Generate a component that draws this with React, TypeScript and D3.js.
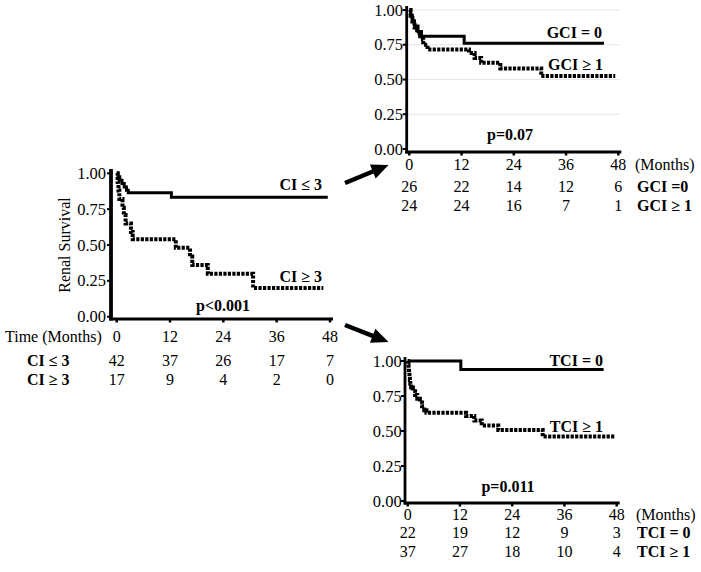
import React from "react";
import * as d3 from "d3";

type Pt = [number, number];

const MONTH_TICKS = [0, 12, 24, 36, 48];
const Y_TICKS = [0, 0.25, 0.5, 0.75, 1];

// Main panel: CI
const ciLow: Pt[] = [[0, 1], [0.3, 0.976], [0.7, 0.952], [1.2, 0.929], [1.7, 0.905], [2.2, 0.881], [2.6, 0.865], [12.3, 0.833], [47.5, 0.833]];
const ciHigh: Pt[] = [[0, 1], [0.2, 0.94], [0.4, 0.88], [0.6, 0.82], [1.3, 0.76], [1.6, 0.71], [2.0, 0.65], [3.2, 0.59], [3.6, 0.54], [13.3, 0.48], [16.5, 0.42], [17.0, 0.36], [20.5, 0.30], [30.7, 0.20], [46.5, 0.20]];
const ciLowRisk = [42, 37, 26, 17, 7];
const ciHighRisk = [17, 9, 4, 2, 0];

// Top-right panel: GCI
const gci0: Pt[] = [[0, 1], [0.3, 0.962], [0.7, 0.923], [1.2, 0.885], [2.0, 0.846], [2.8, 0.812], [12.6, 0.76], [44.7, 0.76]];
const gci1: Pt[] = [[0, 1], [0.3, 0.958], [0.7, 0.917], [1.2, 0.875], [1.8, 0.833], [2.5, 0.792], [3.2, 0.75], [4.2, 0.715], [13.7, 0.69], [15.0, 0.655], [16.5, 0.62], [20.9, 0.58], [30.3, 0.525], [47.3, 0.525]];
const gci0Risk = [26, 22, 14, 12, 6];
const gci1Risk = [24, 24, 16, 7, 1];

// Bottom-right panel: TCI
const tci0: Pt[] = [[0, 1], [12.2, 0.94], [45, 0.94]];
const tci1: Pt[] = [[0, 1], [0.1, 0.973], [0.2, 0.946], [0.3, 0.919], [0.4, 0.892], [0.5, 0.865], [0.6, 0.838], [0.8, 0.811], [1.2, 0.784], [1.7, 0.757], [2.2, 0.73], [2.8, 0.703], [3.3, 0.676], [3.8, 0.649], [4.3, 0.63], [13.4, 0.607], [15.3, 0.575], [17.0, 0.54], [20.8, 0.507], [31.0, 0.46], [47.6, 0.46]];
const tci0Risk = [22, 19, 12, 9, 3];
const tci1Risk = [37, 27, 18, 10, 4];

const FONT = "Liberation Serif, Times New Roman, serif";

type PanelProps = {
  x0: number; x48: number; yTop: number; yBot: number;
  axisX: number; axisY: number; axisTop: number; axisW: number;
  solid: Pt[]; dashed: Pt[];
  grid?: boolean;
  tickLabelRight: number;
};

function Panel(p: PanelProps) {
  const x = d3.scaleLinear().domain([0, 48]).range([p.x0, p.x48]);
  const y = d3.scaleLinear().domain([0, 1]).range([p.yBot, p.yTop]);
  const line = d3.line<Pt>().x(d => x(d[0])).y(d => y(d[1])).curve(d3.curveStepAfter);
  return (
    <g>
      {p.grid && Y_TICKS.filter(t => t > 0).map(t => (
        <line key={"g" + t} x1={p.axisX} x2={x(48) + 2} y1={y(t)} y2={y(t)} stroke="#e6e6e6" strokeWidth={1} />
      ))}
      <path d={line(p.solid) || ""} fill="none" stroke="#000" strokeWidth={3} />
      <path d={line(p.dashed) || ""} fill="none" stroke="#000" strokeWidth={4} strokeDasharray="3.2,1.3" />
      <line x1={p.axisX} x2={p.axisX} y1={p.axisTop} y2={p.axisY + 1.5} stroke="#000" strokeWidth={p.axisW} />
      <line x1={p.axisX - p.axisW / 2} x2={x(48) + 3} y1={p.axisY} y2={p.axisY} stroke="#000" strokeWidth={3} />
      {MONTH_TICKS.map(t => (
        <line key={"xt" + t} x1={x(t)} x2={x(t)} y1={p.axisY} y2={p.axisY + 3.5} stroke="#000" strokeWidth={2.5} />
      ))}
      {Y_TICKS.map(t => (
        <g key={"yt" + t}>
          <line x1={p.axisX - 4} x2={p.axisX} y1={y(t)} y2={y(t)} stroke="#000" strokeWidth={2} />
          <text x={p.tickLabelRight} y={y(t) + 5.5} textAnchor="end" fontSize={16.5}>{t.toFixed(2)}</text>
        </g>
      ))}
    </g>
  );
}

function RiskRow({ x0, x48, yb, vals }: { x0: number; x48: number; yb: number; vals: number[] }) {
  const x = d3.scaleLinear().domain([0, 48]).range([x0, x48]);
  return (
    <g>
      {MONTH_TICKS.map((t, i) => (
        <text key={t} x={x(t)} y={yb} textAnchor="middle" fontSize={16}>{vals[i]}</text>
      ))}
    </g>
  );
}

function Arrow({ x1, y1, x2, y2 }: { x1: number; y1: number; x2: number; y2: number }) {
  const ang = Math.atan2(y2 - y1, x2 - x1);
  const L = 17, W = 7.5;
  const bx = x2 - L * Math.cos(ang), by = y2 - L * Math.sin(ang);
  const px = -Math.sin(ang) * W, py = Math.cos(ang) * W;
  return (
    <g>
      <line x1={x1} y1={y1} x2={bx + 2 * Math.cos(ang)} y2={by + 2 * Math.sin(ang)} stroke="#000" strokeWidth={4.5} />
      <polygon points={`${x2},${y2} ${bx + px},${by + py} ${bx - px},${by - py}`} fill="#000" />
    </g>
  );
}

export default function App() {
  return (
    <svg width={701} height={572} style={{ display: "block", position: "absolute", left: 0, top: 0, fontFamily: FONT }}>
      <rect width={701} height={572} fill="#fff" />
      {/* Main panel */}
      <Panel x0={116.7} x48={330} yTop={173.3} yBot={316.7} axisX={111} axisY={319} axisTop={169} axisW={3.8}
        solid={ciLow} dashed={ciHigh} tickLabelRight={106} />
      <text transform="translate(70,245) rotate(-90)" textAnchor="middle" fontSize={16}>Renal Survival</text>
      <text x={322} y={190} textAnchor="end" fontSize={16} fontWeight="bold">CI ≤ 3</text>
      <text x={322} y={282} textAnchor="end" fontSize={16} fontWeight="bold">CI ≥ 3</text>
      <text x={223} y={311} textAnchor="middle" fontSize={16} fontWeight="bold">p&lt;0.001</text>
      <text x={5} y={342} fontSize={16}>Time (Months)</text>
      <RiskRow x0={116.7} x48={330} yb={342} vals={MONTH_TICKS} />
      <text x={27} y={366} fontSize={16} fontWeight="bold">CI ≤ 3</text>
      <text x={27} y={385} fontSize={16} fontWeight="bold">CI ≥ 3</text>
      <RiskRow x0={116.7} x48={330} yb={366} vals={ciLowRisk} />
      <RiskRow x0={116.7} x48={330} yb={385} vals={ciHighRisk} />

      {/* Top-right panel */}
      <Panel x0={409.3} x48={618.3} yTop={10} yBot={149} axisX={406.7} axisY={152} axisTop={6} axisW={2.8}
        solid={gci0} dashed={gci1} grid tickLabelRight={403} />
      <text x={602} y={38} textAnchor="end" fontSize={16} fontWeight="bold">GCI = 0</text>
      <text x={603} y={70} textAnchor="end" fontSize={16} fontWeight="bold">GCI ≥ 1</text>
      <text x={510} y={140} textAnchor="middle" fontSize={16} fontWeight="bold">p=0.07</text>
      <RiskRow x0={409.3} x48={618.3} yb={170} vals={MONTH_TICKS} />
      <text x={635} y={170} fontSize={16}>(Months)</text>
      <RiskRow x0={409.3} x48={618.3} yb={191.5} vals={gci0Risk} />
      <RiskRow x0={409.3} x48={618.3} yb={211} vals={gci1Risk} />
      <text x={637} y={191.5} fontSize={16} fontWeight="bold">GCI =0</text>
      <text x={637} y={211} fontSize={16} fontWeight="bold">GCI ≥ 1</text>

      {/* Bottom-right panel */}
      <Panel x0={407.7} x48={616.7} yTop={361} yBot={501} axisX={405} axisY={503} axisTop={357} axisW={2.8}
        solid={tci0} dashed={tci1} tickLabelRight={401.7} />
      <text x={603} y={366} textAnchor="end" fontSize={16} fontWeight="bold">TCI = 0</text>
      <text x={603} y={432} textAnchor="end" fontSize={16} fontWeight="bold">TCI ≥ 1</text>
      <text x={508} y={492} textAnchor="middle" fontSize={16} fontWeight="bold">p=0.011</text>
      <RiskRow x0={407.7} x48={616.7} yb={520} vals={MONTH_TICKS} />
      <text x={636} y={520} fontSize={16}>(Months)</text>
      <RiskRow x0={407.7} x48={616.7} yb={538} vals={tci0Risk} />
      <RiskRow x0={407.7} x48={616.7} yb={556.5} vals={tci1Risk} />
      <text x={637} y={538} fontSize={16} fontWeight="bold">TCI = 0</text>
      <text x={637} y={556.5} fontSize={16} fontWeight="bold">TCI ≥ 1</text>

      <Arrow x1={345} y1={183} x2={388.5} y2={165} />
      <Arrow x1={345} y1={325} x2={388.5} y2={342} />
    </svg>
  );
}
